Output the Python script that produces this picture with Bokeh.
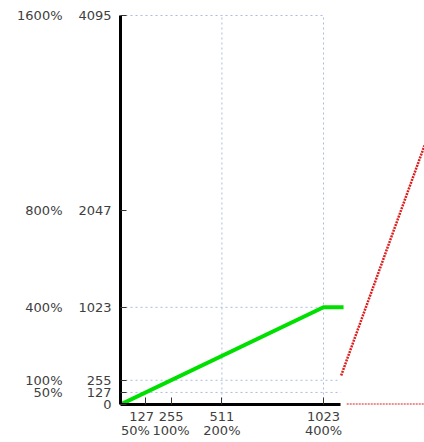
from bokeh.plotting import figure
from bokeh.models import Range1d, LinearAxis, FixedTicker
from bokeh.embed import file_html
from bokeh.resources import INLINE

# ---- data ----
x_ticks = [127, 255, 511, 1023]
x_tick_codes = ["127", "255", "511", "1023"]
x_tick_pcts = ["50%", "100%", "200%", "400%"]
y_ticks = [0, 127, 255, 1023, 2047, 4095]
y_tick_pcts = ["", "50%", "100%", "400%", "800%", "1600%"]

green_x = [0, 1023, 1124]
green_y = [0, 1023, 1023]

red_diag_x = [1112, 1532]
red_diag_y = [305, 2726]
red_base_x = [1140, 1532]
red_base_y = [0, 0]

grid_h_y = [4095, 1023, 255, 127]
grid_h_x_end = [1023, 1023, 1110, 1110]
grid_v_x = [511, 1023]
grid_v_y_end = [4095, 4095]

FONT = "DejaVu Sans"
TXT = "#404040"
FS = "13px"
NB = "\u00a0"

p = figure(width=424, height=442, x_range=Range1d(0, 1532), y_range=Range1d(0, 4116),
           output_backend="svg", toolbar_location=None,
           x_axis_type=None, y_axis_type=None,
           min_border_left=120, min_border_right=0, min_border_top=13, min_border_bottom=38)
p.outline_line_color = None
p.background_fill_color = "white"

grid_col = "#a9bde0"
p.segment(x0=[0] * len(grid_h_y), y0=grid_h_y, x1=grid_h_x_end, y1=grid_h_y,
          line_color=grid_col, line_width=1, line_dash="2 3")
p.segment(x0=grid_v_x, y0=[0] * len(grid_v_x), x1=grid_v_x, y1=grid_v_y_end,
          line_color=grid_col, line_width=1, line_dash="2 3")

p.line(green_x, green_y, line_color="#00e000", line_width=4)
p.line(red_diag_x, red_diag_y, line_color="#dc2020", line_width=2.5, line_dash="2 1")
p.line(red_base_x, red_base_y, line_color="#dc2020", line_width=2, line_dash="2 1")

# x axis (codes)
code_labels = dict(zip(x_ticks, x_tick_codes))
code_labels[x_ticks[0]] = x_tick_codes[0] + NB * 2
xa = LinearAxis(ticker=FixedTicker(ticks=x_ticks), bounds=(0, 1110))
xa.major_label_overrides = code_labels
xa.axis_line_width = 3
xa.axis_line_color = "black"
xa.major_tick_in = 7
xa.major_tick_out = 0
xa.major_tick_line_width = 1
xa.major_tick_line_color = "#333333"
xa.minor_tick_line_color = None
xa.major_label_standoff = 4
xa.major_label_text_font = FONT
xa.major_label_text_font_size = FS
xa.major_label_text_color = TXT
p.add_layout(xa, "below")

# x axis (percent)
pct_labels = dict(zip(x_ticks, x_tick_pcts))
pct_labels[x_ticks[0]] = x_tick_pcts[0] + NB * 5
xp = LinearAxis(ticker=FixedTicker(ticks=x_ticks))
xp.major_label_overrides = pct_labels
xp.axis_line_color = None
xp.major_tick_line_color = None
xp.minor_tick_line_color = None
xp.major_label_standoff = -10
xp.major_label_text_font = FONT
xp.major_label_text_font_size = FS
xp.major_label_text_color = TXT
p.add_layout(xp, "below")

# y axis (codes)
ya = LinearAxis(ticker=FixedTicker(ticks=y_ticks), bounds=(0, 4095))
ya.axis_line_width = 3
ya.axis_line_color = "black"
ya.major_tick_in = 6
ya.major_tick_out = 0
ya.major_tick_line_color = "#333333"
ya.minor_tick_line_color = None
ya.major_label_standoff = 9
ya.major_label_text_font = FONT
ya.major_label_text_font_size = FS
ya.major_label_text_color = TXT
p.add_layout(ya, "left")

# y axis (percent)
yp = LinearAxis(ticker=FixedTicker(ticks=y_ticks))
yp.major_label_overrides = {t: pc for t, pc in zip(y_ticks, y_tick_pcts)}
yp.axis_line_color = None
yp.major_tick_line_color = None
yp.minor_tick_line_color = None
yp.major_label_standoff = 7
yp.major_label_text_font = FONT
yp.major_label_text_font_size = FS
yp.major_label_text_color = TXT
p.add_layout(yp, "left")

open("out.html", "w").write(file_html(p, INLINE))
